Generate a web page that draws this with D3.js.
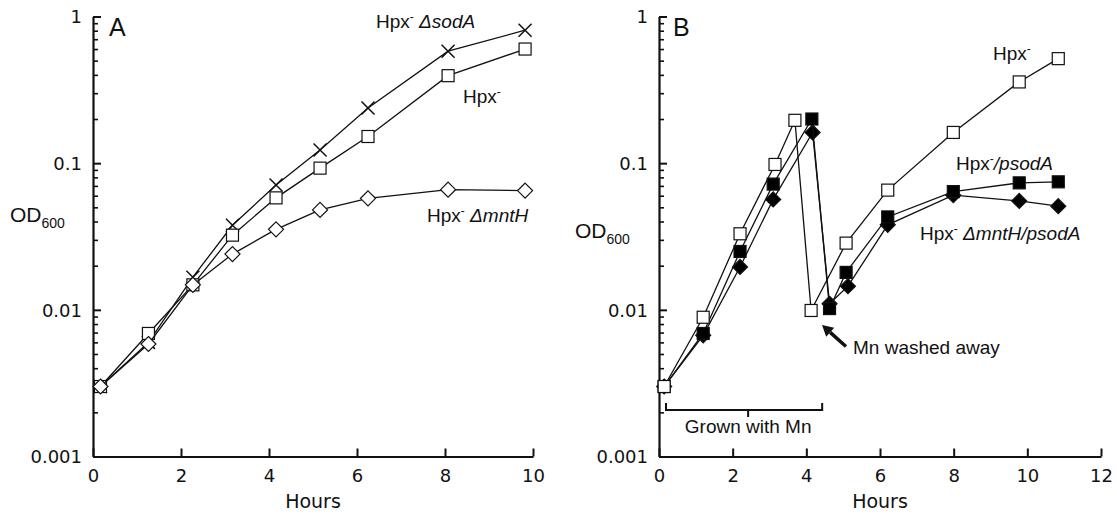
<!DOCTYPE html>
<html><head><meta charset="utf-8">
<script src="https://cdn.jsdelivr.net/npm/d3@7"></script>
<style>
body{margin:0;background:#fff;}
svg{display:block;}
.tick text{font-family:"DejaVu Sans",Verdana,sans-serif;font-size:18px;fill:#111;}
.lab{font-family:"Liberation Sans",Arial,sans-serif;font-size:19px;fill:#111;}
</style></head>
<body>
<script>
// ---------- data ----------
const yTickValues = [0.001, 0.01, 0.1, 1];
const yTickLabels = ["0.001", "0.01", "0.1", "1"];
const xTicksA = [0, 2, 4, 6, 8, 10];
const xTicksB = [0, 2, 4, 6, 8, 10, 12];

// Panel A
const hoursA = [0.17, 1.26, 2.27, 3.17, 4.16, 5.16, 6.25, 8.07, 9.82];
const hpxA      = [0.003, 0.0069, 0.0148, 0.0323, 0.058, 0.0925, 0.152, 0.395, 0.60];
const hpxSodA   = [0.003, 0.006, 0.0167, 0.0377, 0.071, 0.123, 0.238, 0.58, 0.806];
const hpxMntH   = [0.003, 0.00585, 0.0148, 0.024, 0.0354, 0.048, 0.0576, 0.066, 0.065];

// Panel B
const hoursBOpen    = [0.14, 1.2, 2.2, 3.15, 3.69, 4.13, 5.08, 6.21, 7.99, 9.78, 10.84];
const hpxB          = [0.003, 0.0089, 0.033, 0.098, 0.196, 0.0099, 0.0285, 0.0655, 0.162, 0.358, 0.516];
const hoursBSq      = [0.14, 1.2, 2.2, 3.1, 4.15, 4.63, 5.08, 6.21, 7.99, 9.78, 10.84];
const hpxPsodA      = [0.003, 0.0069, 0.025, 0.072, 0.2, 0.0102, 0.018, 0.043, 0.064, 0.0734, 0.0746];
const hoursBDia     = [0.14, 1.2, 2.2, 3.1, 4.17, 4.63, 5.13, 6.21, 7.99, 9.78, 10.84];
const hpxMntHPsodA  = [0.003, 0.0067, 0.0196, 0.0566, 0.162, 0.011, 0.0145, 0.038, 0.0605, 0.0553, 0.0509];

// annotation data (hours)
const grownBracket = [0.19, 4.43];
const grownMid = 2.42;

// ---------- drawing ----------
const W = 1117, H = 516;
const svg = d3.select("body").append("svg").attr("width", W).attr("height", H);

const y = d3.scaleLog().domain([0.001, 1]).range([456.5, 16.5]);
const xA = d3.scaleLinear().domain([0, 10]).range([93, 533]);
const xB = d3.scaleLinear().domain([0, 12]).range([659, 1101]);

const minorTicks = [];
[0.001, 0.01, 0.1].forEach(d => { for (let k = 2; k <= 9; k++) minorTicks.push(d * k); });

function axes(x, xt) {
  const x0 = x.range()[0];
  const g = svg.append("g");
  // minor y ticks
  const gm = g.append("g").attr("transform", `translate(${x0},0)`)
    .call(d3.axisLeft(y).tickValues(minorTicks).tickSize(-5).tickSizeOuter(0).tickFormat(""));
  gm.select(".domain").remove();
  gm.selectAll("line").attr("stroke", "#111").attr("stroke-width", 1.6);
  // major y ticks
  const gy = g.append("g").attr("transform", `translate(${x0},0)`)
    .call(d3.axisLeft(y).tickValues(yTickValues).tickSize(-8).tickSizeOuter(0).tickPadding(11)
      .tickFormat((d, i) => yTickLabels[i]));
  gy.select(".domain").attr("stroke", "#111").attr("stroke-width", 2.2);
  gy.selectAll("line").attr("stroke", "#111").attr("stroke-width", 2);
  gy.selectAll("text").attr("dy", "0.36em");
  // x axis
  const gx = g.append("g").attr("transform", `translate(0,${y.range()[0]})`)
    .call(d3.axisBottom(x).tickValues(xt).tickSize(-8).tickSizeOuter(0).tickPadding(13));
  gx.select(".domain").attr("stroke", "#111").attr("stroke-width", 2.2);
  gx.selectAll("line").attr("stroke", "#111").attr("stroke-width", 2);
  // x title
  svg.append("text").attr("class", "lab")
    .attr("x", (x.range()[0] + x.range()[1]) / 2).attr("y", 508)
    .attr("text-anchor", "middle")
    .style("font-family", '"DejaVu Sans",Verdana,sans-serif').style("font-size", "19px")
    .text("Hours");
}

function series(x, xs, ys, marker, fill) {
  const pts = xs.map((d, i) => [x(d), y(ys[i])]);
  svg.append("path").attr("d", d3.line()(pts))
    .attr("fill", "none").attr("stroke", "#111").attr("stroke-width", 1.3);
  const g = svg.append("g");
  pts.forEach(p => {
    if (marker === "square") {
      g.append("rect").attr("x", p[0] - 6).attr("y", p[1] - 6).attr("width", 12).attr("height", 12)
        .attr("fill", fill).attr("stroke", "#111").attr("stroke-width", 1.2);
    } else if (marker === "diamond") {
      g.append("path").attr("d", `M${p[0]},${p[1]-7.5}L${p[0]+7.5},${p[1]}L${p[0]},${p[1]+7.5}L${p[0]-7.5},${p[1]}Z`)
        .attr("fill", fill).attr("stroke", "#111").attr("stroke-width", 1.2);
    } else if (marker === "cross") {
      const s = 6.5;
      g.append("path").attr("d", `M${p[0]-s},${p[1]-s}L${p[0]+s},${p[1]+s}M${p[0]-s},${p[1]+s}L${p[0]+s},${p[1]-s}`)
        .attr("stroke", "#111").attr("stroke-width", 1.5).attr("fill", "none");
    }
  });
}

axes(xA, xTicksA);
axes(xB, xTicksB);

// Panel A series
series(xA, hoursA, hpxSodA, "cross", "none");
series(xA, hoursA, hpxA, "square", "#fff");
series(xA, hoursA, hpxMntH, "diamond", "#fff");

// Panel B series
series(xB, hoursBDia, hpxMntHPsodA, "diamond", "#000");
series(xB, hoursBSq, hpxPsodA, "square", "#000");
series(xB, hoursBOpen, hpxB, "square", "#fff");

// labels helper: parts = [[text, style]]
function label(x0, yb, parts, size) {
  const t = svg.append("text").attr("class", "lab").attr("x", x0).attr("y", yb);
  if (size) t.style("font-size", size + "px");
  parts.forEach(p => {
    const s = t.append("tspan").text(p[0]);
    if (p[1] === "i") s.style("font-style", "italic");
    if (p[1] === "sup") s.style("font-size", "12px").attr("dy", -7);
    if (p[1] === "down") s.attr("dy", 7);
    if (p[1] === "sub") s.style("font-size", "14px").attr("dy", 6);
  });
  return t;
}

// Panel letters
label(109, 36, [["A"]], 25);
label(673, 36, [["B"]], 25);

// OD600
label(10, 222, [["OD"], ["600", "sub"]], 21);
label(575, 238, [["OD"], ["600", "sub"]], 21);

// Panel A series labels
label(376, 28, [["Hpx"], ["-", "sup"], [" ", "down"], ["ΔsodA", "i"]]);
label(463, 103, [["Hpx"], ["-", "sup"]]);
label(427, 222, [["Hpx"], ["-", "sup"], [" ", "down"], ["ΔmntH", "i"]]);

// Panel B series labels
label(993, 60, [["Hpx"], ["-", "sup"]]);
label(956, 170, [["Hpx"], ["-", "sup"], ["/psodA", "down"]]).selectAll("tspan").filter((d, i) => i === 2).style("font-style", "italic");
label(920, 240, [["Hpx"], ["-", "sup"], [" ", "down"], ["ΔmntH/psodA", "i"]]);

// Grown with Mn bracket
const by = 410;
const bx1 = xB(grownBracket[0]), bx2 = xB(grownBracket[1]), bm = xB(grownMid);
svg.append("path")
  .attr("d", `M${bx1},${by-7}V${by}H${bx2}V${by-7}M${bm},${by}V${by+7}`)
  .attr("fill", "none").attr("stroke", "#111").attr("stroke-width", 2);
svg.append("text").attr("class", "lab").attr("x", bm).attr("y", 433).attr("text-anchor", "middle").text("Grown with Mn");

// Mn washed away arrow
const ax1 = 846, ay1 = 346.5, ax2 = 822, ay2 = 325;
const ang = Math.atan2(ay2 - ay1, ax2 - ax1);
const hl = 11, hw = 6;
const bxp = ax2 - hl * Math.cos(ang), byp = ay2 - hl * Math.sin(ang);
svg.append("line").attr("x1", ax1).attr("y1", ay1).attr("x2", bxp).attr("y2", byp)
  .attr("stroke", "#111").attr("stroke-width", 3.5);
svg.append("path").attr("d",
  `M${ax2},${ay2}L${bxp + hw*Math.sin(ang)},${byp - hw*Math.cos(ang)}L${bxp - hw*Math.sin(ang)},${byp + hw*Math.cos(ang)}Z`)
  .attr("fill", "#111");
svg.append("text").attr("class", "lab").attr("x", 853).attr("y", 354).text("Mn washed away");
</script>
</body></html>
